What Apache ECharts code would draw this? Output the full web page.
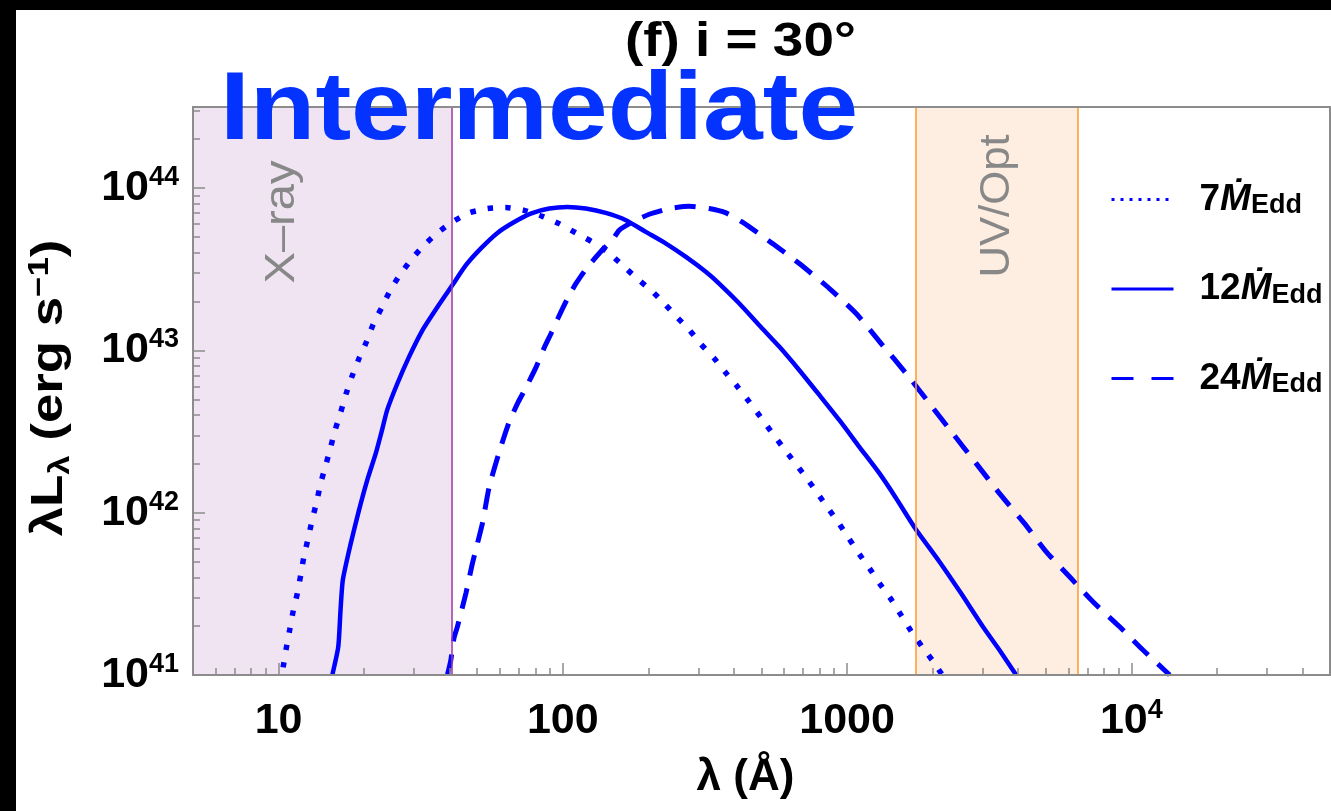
<!DOCTYPE html>
<html>
<head>
<meta charset="utf-8">
<script src="https://cdn.jsdelivr.net/npm/echarts@6/dist/echarts.min.js"></script>
<style>
html,body{margin:0;padding:0;background:#000;width:1331px;height:811px;overflow:hidden}
#c{position:absolute;left:16px;top:10px;width:1315px;height:801px;background:#fff}
</style>
</head>
<body>
<div id="c"></div>
<script>
// ---- data (log10 of wavelength in Å, log10 of λL_λ in erg/s) ----
const dotLogLam = [1.016,1.027,1.039,1.051,1.066,1.078,1.089,1.104,1.118,1.134,1.148,1.166,1.183,1.198,1.219,1.238,1.259,1.283,1.309,1.333,1.363,1.393,1.426,1.468,1.512,1.559,1.611,1.670,1.735,1.799,1.864,1.928,1.987,2.046,2.104,2.157,2.210,2.257,2.310,2.357,2.398,2.445,2.486,2.533,2.574,2.615,2.656,2.695,2.732,2.773,2.814,2.856,2.893,2.932,2.970,3.006,3.043,3.079,3.116,3.155,3.190,3.225,3.264,3.301,3.335];
const dotLogL   = [41.047,41.164,41.277,41.390,41.503,41.616,41.728,41.842,41.954,42.067,42.180,42.293,42.402,42.504,42.621,42.735,42.843,42.950,43.052,43.161,43.264,43.371,43.463,43.562,43.648,43.724,43.791,43.847,43.874,43.880,43.863,43.826,43.781,43.724,43.668,43.607,43.525,43.449,43.371,43.289,43.211,43.126,43.038,42.950,42.861,42.775,42.683,42.591,42.502,42.406,42.313,42.217,42.127,42.030,41.938,41.842,41.745,41.657,41.560,41.466,41.369,41.271,41.174,41.088,41.000];

const solLogLam = [1.189,1.210,1.218,1.226,1.254,1.283,1.312,1.342,1.364,1.382,1.418,1.459,1.506,1.559,1.611,1.659,1.711,1.770,1.829,1.887,1.952,2.016,2.081,2.151,2.222,2.292,2.363,2.433,2.504,2.550,2.621,2.691,2.762,2.832,2.903,2.973,3.043,3.114,3.173,3.240,3.325,3.401,3.478,3.536,3.595];
const solLogL   = [41.000,41.174,41.400,41.585,41.811,42.016,42.201,42.365,42.509,42.632,42.796,42.960,43.124,43.268,43.401,43.525,43.627,43.724,43.791,43.843,43.874,43.884,43.874,43.847,43.802,43.730,43.658,43.576,43.483,43.412,43.289,43.155,43.022,42.878,42.724,42.570,42.406,42.242,42.088,41.903,41.698,41.503,41.297,41.154,41.000];

const dasLogLam = [1.594,1.606,1.617,1.629,1.659,1.682,1.717,1.741,1.776,1.811,1.843,1.871,1.906,1.934,1.959,1.983,2.019,2.047,2.086,2.138,2.174,2.198,2.245,2.304,2.374,2.445,2.515,2.574,2.632,2.738,2.832,2.938,3.032,3.120,3.208,3.290,3.372,3.454,3.536,3.624,3.701,3.783,3.865,3.959,4.041,4.135];
const dasLogL   = [41.000,41.092,41.226,41.297,41.503,41.688,41.934,42.159,42.373,42.558,42.681,42.773,42.897,43.014,43.106,43.198,43.328,43.414,43.512,43.617,43.679,43.740,43.791,43.839,43.874,43.888,43.874,43.847,43.790,43.658,43.535,43.381,43.227,43.042,42.858,42.673,42.488,42.304,42.119,41.934,41.759,41.605,41.451,41.297,41.154,41.000];

const seriesNames = ['7Mdot', '12Mdot', '24Mdot'];
const seriesRates = ['7', '12', '24'];

// wavelength bands (Å)
const bandXray = [5, 41];
const bandUV = [1740, 6530];

// axis ranges (Å, erg/s)
const xRange = [5, 5e4];
const yRange = [1e41, 3.16e44];
const xMajor = [10, 100, 1000, 10000];
const yMajor = [1e41, 1e42, 1e43, 1e44];

// ---- build ----
const lg = Math.log10;
const xMin = lg(xRange[0]), xMax = lg(xRange[1]);
const yMin = lg(yRange[0]), yMax = lg(yRange[1]);
function minorTicks(lo, hi) {
  const out = [];
  for (let e = Math.floor(lo); e <= Math.ceil(hi); e++) {
    for (let k = 2; k <= 9; k++) {
      const v = e + lg(k);
      if (v > lo + 1e-6 && v < hi - 1e-6) out.push(v);
    }
  }
  return out;
}
const xMajorLog = xMajor.map(lg), yMajorLog = yMajor.map(lg);
const xMinor = minorTicks(xMin, xMax), yMinor = minorTicks(yMin, yMax);

const zip = (a, b) => a.map((v, i) => [v, b[i]]);
const BLUE = '#0000ff';
const AX = '#8c8c8c';
const FONT = '"Liberation Sans", Arial, Helvetica, sans-serif';

const tickRich = {
  b: {fontSize: 43, fontWeight: 'bold', fontFamily: FONT, color: '#000', lineHeight: 48},
  sup: {fontSize: 27, fontWeight: 'bold', fontFamily: FONT, color: '#000', lineHeight: 14, verticalAlign: 'top'}
};

function xLabel(v) {
  const e = Math.round(v);
  if (e <= 3) return '{b|' + Math.pow(10, e) + '}';
  return '{b|10}{sup|' + e + '}';
}
function yLabel(v) {
  return '{b|10}{sup|' + Math.round(v) + '}';
}

const legendLabel = {};
seriesNames.forEach((n, i) => legendLabel[n] = seriesRates[i]);

const chart = echarts.init(document.getElementById('c'), null, {renderer: 'canvas'});
const option = {
  backgroundColor: '#fff',
  animation: false,
  grid: {left: 177, top: 97, right: 1, bottom: 136, show: true, borderColor: AX, borderWidth: 2, backgroundColor: 'transparent', z: 6},
  xAxis: [{
    type: 'value', min: xMin, max: xMax, position: 'bottom', z: 6,
    axisLine: {show: true, lineStyle: {color: AX, width: 2}},
    splitLine: {show: false},
    axisTick: {show: true, inside: true, length: 12, lineStyle: {color: AX, width: 1.5}, customValues: xMajorLog},
    axisLabel: {show: true, customValues: xMajorLog, formatter: xLabel, margin: 22, rich: tickRich},
    name: '{a|λ (Å)}', nameLocation: 'middle', nameGap: 78,
    nameTextStyle: {padding: [0, 32, 0, 0], rich: {a: {fontSize: 44, fontWeight: 'bold', fontFamily: FONT, color: '#000', lineHeight: 50}}}
  }, {
    type: 'value', min: xMin, max: xMax, position: 'bottom', z: 6,
    axisLine: {show: false}, splitLine: {show: false}, axisLabel: {show: false},
    axisTick: {show: true, inside: true, length: 7, lineStyle: {color: AX, width: 1.5}, customValues: xMinor}
  }],
  yAxis: [{
    type: 'value', min: yMin, max: yMax, position: 'left', z: 6,
    axisLine: {show: true, lineStyle: {color: AX, width: 2}},
    splitLine: {show: false},
    axisTick: {show: true, inside: true, length: 12, lineStyle: {color: AX, width: 1.5}, customValues: yMajorLog},
    axisLabel: {show: true, customValues: yMajorLog, formatter: yLabel, margin: 14, rich: tickRich}
  }, {
    type: 'value', min: yMin, max: yMax, position: 'left', z: 6,
    axisLine: {show: false}, splitLine: {show: false}, axisLabel: {show: false},
    axisTick: {show: true, inside: true, length: 7, lineStyle: {color: AX, width: 1.5}, customValues: yMinor}
  }],
  legend: {
    orient: 'vertical', left: 1094, top: 171, padding: 0, itemWidth: 62, itemHeight: 14, itemGap: 51,
    itemStyle: {opacity: 0},
    formatter: n => '{n|' + legendLabel[n] + '}{m|Ṁ}{s|Edd}',
    textStyle: {padding: [0, 0, 0, 21], rich: {
      n: {fontSize: 37, fontWeight: 'bold', fontFamily: FONT, color: '#000', lineHeight: 40},
      m: {fontSize: 37, fontWeight: 'bold', fontStyle: 'italic', fontFamily: FONT, color: '#000', lineHeight: 40},
      s: {fontSize: 27, fontWeight: 'bold', fontFamily: FONT, color: '#000', lineHeight: 30, verticalAlign: 'bottom'}
    }},
    data: [
      {name: seriesNames[0], lineStyle: {width: 3, type: [3, 6], cap: 'butt'}},
      {name: seriesNames[1], lineStyle: {width: 3}},
      {name: seriesNames[2], lineStyle: {width: 3, type: [22, 18], cap: 'butt'}}
    ]
  },
  graphic: [
    {type: 'text', z: 10, x: 609, y: 8, scaleX: 1.12, style: {text: '(f) i = 30°', font: 'bold 49px ' + FONT, fill: '#000'}},
    {type: 'text', z: 11, x: 204, y: 55, scaleX: 1.118, style: {text: 'Intermediate', font: 'bold 96px ' + FONT, fill: '#0433ff'}},
    {type: 'text', z: 5, x: 266, y: 212, rotation: Math.PI / 2, scaleX: 1.12, style: {text: 'X–ray', font: '42px ' + FONT, fill: '#888', align: 'center', verticalAlign: 'middle'}},
    {type: 'text', z: 5, x: 981, y: 196, rotation: Math.PI / 2, scaleX: 1.04, style: {text: 'UV/Opt', font: '42px ' + FONT, fill: '#888', align: 'center', verticalAlign: 'middle'}},
    {type: 'text', z: 5, x: 34, y: 378, rotation: Math.PI / 2, scaleX: 1.2, style: {
      text: '{a|λL}{sub|λ}{a| (erg s}{sup|−1}{a|)}', align: 'center', verticalAlign: 'middle',
      rich: {
        a: {fontSize: 44, fontWeight: 'bold', fontFamily: FONT, fill: '#000', lineHeight: 50},
        sub: {fontSize: 29, fontWeight: 'bold', fontFamily: FONT, fill: '#000', lineHeight: 32, verticalAlign: 'bottom'},
        sup: {fontSize: 29, fontWeight: 'bold', fontFamily: FONT, fill: '#000', lineHeight: 14, verticalAlign: 'top'}
      }}}
  ],
  series: [
    {
      name: '__bands', type: 'line', data: [], silent: true, z: 1,
      markArea: {silent: true, data: [
        [{xAxis: lg(bandXray[0]), itemStyle: {color: '#f0e4f2'}}, {xAxis: lg(bandXray[1])}],
        [{xAxis: lg(bandUV[0]), itemStyle: {color: '#fdeee1'}}, {xAxis: lg(bandUV[1])}]
      ]},
      markLine: {silent: true, symbol: ['none', 'none'], label: {show: false}, data: [
        {xAxis: lg(bandXray[1]), lineStyle: {color: '#a03ca0', width: 1.5, type: 'solid'}},
        {xAxis: lg(bandUV[0]), lineStyle: {color: '#ff9a2e', width: 1.5, type: 'solid'}},
        {xAxis: lg(bandUV[1]), lineStyle: {color: '#ff9a2e', width: 1.5, type: 'solid'}}
      ]}
    },
    {name: seriesNames[0], type: 'line', data: zip(dotLogLam, dotLogL), showSymbol: false, symbol: 'none', z: 3, smooth: 0.2,
     lineStyle: {color: BLUE, width: 5.5, type: [5.5, 12], cap: 'butt'}, itemStyle: {color: BLUE}},
    {name: seriesNames[1], type: 'line', data: zip(solLogLam, solLogL), showSymbol: false, symbol: 'none', z: 3, smooth: 0.2,
     lineStyle: {color: BLUE, width: 4.5, type: 'solid'}, itemStyle: {color: BLUE}},
    {name: seriesNames[2], type: 'line', data: zip(dasLogLam, dasLogL), showSymbol: false, symbol: 'none', z: 3, smooth: 0.2,
     lineStyle: {color: BLUE, width: 5, type: [21, 13], cap: 'butt'}, itemStyle: {color: BLUE}}
  ]
};
chart.setOption(option);
</script>
</body>
</html>
